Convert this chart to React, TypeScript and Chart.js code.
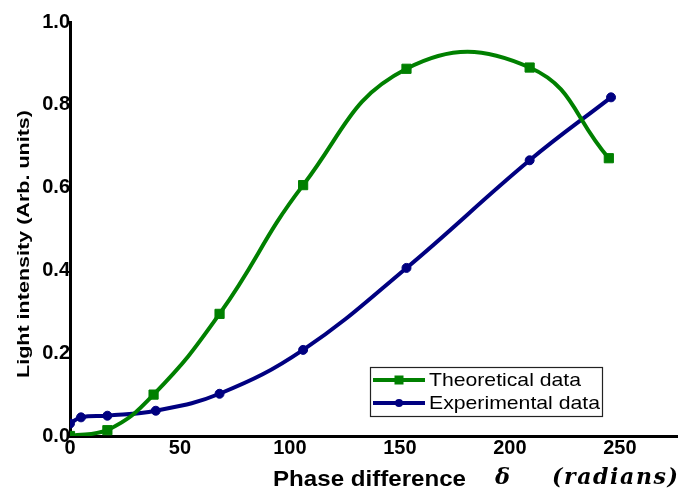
import React, { useEffect, useRef } from 'react';
import { Chart, registerables } from 'chart.js';

Chart.register(...registerables);

// ---- data ----
const theoryX = [0, 17, 38, 68, 106, 153, 209, 245];
const theoryY = [0.0, 0.014, 0.1, 0.295, 0.606, 0.887, 0.89, 0.671];
const expX = [0, 5, 17, 39, 68, 106, 153, 209, 246];
const expY = [0.03, 0.045, 0.049, 0.061, 0.102, 0.208, 0.406, 0.666, 0.818];
const seriesNames = ['Theoretical data', 'Experimental data'];
const xTicks = [0, 50, 100, 150, 200, 250];
const yTicks = [0, 0.2, 0.4, 0.6, 0.8, 1.0];
const xTitleParts = ['Phase difference', 'δ', '(radians)'];
const yTitle = 'Light intensity (Arb. units)';

const GREEN = '#008000';
const NAVY = '#000080';
const SANS = '"Liberation Sans", Arial, sans-serif';
const SERIF = '"DejaVu Serif", serif';

function fitText(ctx: CanvasRenderingContext2D, text: string, font: string, x: number, y: number, target: number) {
  ctx.save();
  ctx.font = font;
  const w = ctx.measureText(text).width;
  ctx.translate(x, y);
  ctx.scale(target / w, 1);
  ctx.textAlign = 'left';
  ctx.textBaseline = 'alphabetic';
  ctx.fillText(text, 0, 0);
  ctx.restore();
}

function spacedText(ctx: CanvasRenderingContext2D, text: string, font: string, x: number, y: number, target: number) {
  ctx.save();
  ctx.font = font;
  ctx.textAlign = 'left';
  ctx.textBaseline = 'alphabetic';
  const chars = Array.from(text);
  const widths = chars.map((c) => ctx.measureText(c).width);
  const total = widths.reduce((a, b) => a + b, 0);
  const gap = chars.length > 1 ? (target - total) / (chars.length - 1) : 0;
  let cx = x;
  chars.forEach((c, i) => {
    ctx.fillText(c, cx, y);
    cx += widths[i] + gap;
  });
  ctx.restore();
}

const decorPlugin = {
  id: 'decor',
  afterDraw(chart: any) {
    const ctx: CanvasRenderingContext2D = chart.ctx;
    ctx.save();
    ctx.fillStyle = '#000';
    // x title
    fitText(ctx, xTitleParts[0], `bold 22px ${SANS}`, 273, 486, 193);
    fitText(ctx, xTitleParts[1], `italic bold 22px ${SERIF}`, 495, 484, 15);
    spacedText(ctx, xTitleParts[2], `italic bold 22px ${SERIF}`, 552, 484, 126);
    // y title
    ctx.save();
    ctx.translate(29, 244);
    ctx.rotate(-Math.PI / 2);
    ctx.font = `bold 17px ${SANS}`;
    const w = ctx.measureText(yTitle).width;
    ctx.scale(268 / w, 1);
    ctx.textAlign = 'center';
    ctx.textBaseline = 'alphabetic';
    ctx.fillText(yTitle, 0, 0);
    ctx.restore();

    // legend
    const bx = 370.5, by = 367.5, bw = 232, bh = 49;
    ctx.strokeStyle = '#222';
    ctx.lineWidth = 1.2;
    ctx.strokeRect(bx, by, bw, bh);
    const rowsY = [380, 403];
    const baseY = [385.5, 409];
    chart.data.datasets.forEach((ds: any, i: number) => {
      const y = rowsY[i];
      ctx.strokeStyle = ds.borderColor;
      ctx.lineWidth = 4;
      ctx.beginPath();
      ctx.moveTo(373, y);
      ctx.lineTo(425, y);
      ctx.stroke();
      ctx.fillStyle = ds.borderColor;
      if (ds.pointStyle === 'rect') {
        ctx.fillRect(394.5, y - 4.5, 9, 9);
      } else {
        ctx.beginPath();
        ctx.arc(399, y, 4, 0, Math.PI * 2);
        ctx.fill();
      }
      ctx.fillStyle = '#000';
      fitText(ctx, ds.label, `19px ${SANS}`, 429, baseY[i], i === 0 ? 152 : 171);
    });
    ctx.restore();
  },
};

export default function App() {
  const ref = useRef<HTMLCanvasElement>(null);
  useEffect(() => {
    if (!ref.current) return;
    const chart = new Chart(ref.current, {
      type: 'line',
      data: {
        datasets: [
          {
            label: seriesNames[0],
            data: theoryX.map((x, i) => ({ x, y: theoryY[i] })),
            borderColor: GREEN,
            backgroundColor: GREEN,
            borderWidth: 4,
            pointStyle: 'rect',
            pointRadius: 6.5,
            pointBorderWidth: 1,
            tension: 0.45,
            fill: false,
          },
          {
            label: seriesNames[1],
            data: expX.map((x, i) => ({ x, y: expY[i] })),
            borderColor: NAVY,
            backgroundColor: NAVY,
            borderWidth: 4,
            pointStyle: 'circle',
            pointRadius: 4.5,
            pointBorderWidth: 1,
            tension: 0.4,
            fill: false,
          },
        ],
      },
      options: {
        responsive: false,
        animation: false,
        devicePixelRatio: 1,
        layout: { autoPadding: false, padding: { top: 22, right: 3, left: 0, bottom: 0 } },
        plugins: { legend: { display: false }, tooltip: { enabled: false } },
        scales: {
          x: {
            type: 'linear',
            min: 0,
            max: 276,
            grid: { display: false, drawTicks: false },
            border: { display: true, color: '#000', width: 3 },
            ticks: {
              padding: 0,
              color: '#000',
              font: { family: SANS, size: 20, weight: 'bold' },
              maxRotation: 0,
              autoSkip: false,
            },
            afterBuildTicks: (scale: any) => {
              scale.ticks = xTicks.map((v) => ({ value: v }));
            },
            afterFit: (scale: any) => {
              scale.height = 55;
              scale.paddingLeft = 0;
              scale.paddingRight = 0;
            },
          },
          y: {
            type: 'linear',
            min: 0,
            max: 1,
            grid: { display: false, drawTicks: false },
            border: { display: true, color: '#000', width: 3 },
            ticks: {
              padding: 0,
              color: '#000',
              font: { family: SANS, size: 20, weight: 'bold' },
              callback: (v: any) => Number(v).toFixed(1),
            },
            afterBuildTicks: (scale: any) => {
              scale.ticks = yTicks.map((v) => ({ value: v }));
            },
            afterFit: (scale: any) => {
              scale.width = 70;
              scale.paddingTop = 0;
              scale.paddingBottom = 0;
            },
          },
        },
      },
      plugins: [decorPlugin],
    } as any);
    return () => chart.destroy();
  }, []);
  return (
    <div style={{ position: 'fixed', left: 0, top: 0, width: 680, height: 491, background: '#fff' }}>
      <canvas ref={ref} width={680} height={491} style={{ display: 'block' }} />
    </div>
  );
}
